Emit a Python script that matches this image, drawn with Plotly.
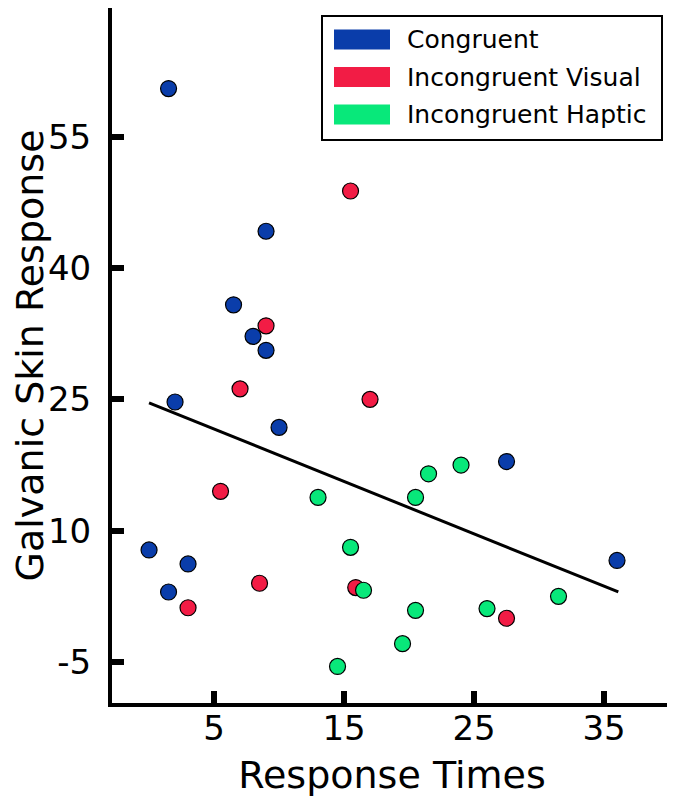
import plotly.graph_objects as go

# data
congruent_x = [1.5, 9.0, 6.5, 8.0, 9.0, 2.0, 10.0, 0.0, 3.0, 1.5, 27.5, 36.0]
congruent_y = [60.5, 44.2, 35.8, 32.2, 30.6, 24.7, 21.8, 7.8, 6.2, 3.0, 17.9, 6.6]

visual_x = [9.0, 7.0, 5.5, 3.0, 8.5, 15.5, 17.0, 15.9, 27.5]
visual_y = [33.4, 26.2, 14.5, 1.2, 4.0, 48.8, 25.0, 3.5, 0.0]

haptic_x = [13.0, 20.5, 21.5, 24.0, 15.5, 16.5, 20.5, 26.0, 31.5, 19.5, 14.5]
haptic_y = [13.8, 13.8, 16.5, 17.5, 8.1, 3.2, 0.9, 1.1, 2.5, -2.9, -5.5]

fit_x = [0.0, 36.1]
fit_y = [24.6, 3.0]

x_ticks = [5, 15, 25, 35]
y_ticks = [-5, 10, 25, 40, 55]
y_ticktext = ['-5', '10', '25', '40', '55']

names = ['Congruent', 'Incongruent Visual', 'Incongruent Haptic']
colors = ['#0A3DAA', '#F21C45', '#08E87A']

# the page body adds an 8px margin, so the figure is a bit smaller than the window
OFF = 8
W, H = 675 - OFF, 803 - OFF
L, R, T, B = 104, 3, 0, 100
font = 'DejaVu Sans'

fig = go.Figure()
for xs, ys, name, c in zip([congruent_x, visual_x, haptic_x],
                           [congruent_y, visual_y, haptic_y], names, colors):
    fig.add_trace(go.Scatter(x=xs, y=ys, mode='markers', name=name, showlegend=False,
                             marker=dict(size=16, color=c, line=dict(color='black', width=1.2))))

fig.add_trace(go.Scatter(x=fit_x, y=fit_y, mode='lines', showlegend=False,
                         line=dict(color='black', width=3)))

# legend drawn by hand so the swatches are wide rectangles (page pixel positions)
pw, ph = W - L - R, H - T - B
def px(x):
    return (x - OFF - L) / pw
def py(y):
    return 1 - (y - OFF - T) / ph

shapes = [dict(type='rect', xref='paper', yref='paper', x0=px(322), x1=px(662),
               y0=py(140), y1=py(16), line=dict(color='black', width=2), fillcolor='white')]
annotations = []
for i, (name, c) in enumerate(zip(names, colors)):
    cy = 39.5 + i * 37.5
    shapes.append(dict(type='rect', xref='paper', yref='paper', x0=px(334), x1=px(390),
                       y0=py(cy + 10), y1=py(cy - 10), line=dict(width=0), fillcolor=c))
    annotations.append(dict(text=name, xref='paper', yref='paper', x=px(405), y=py(cy),
                            xanchor='left', yanchor='middle', showarrow=False,
                            font=dict(family=font, size=25, color='black')))

fig.update_layout(shapes=shapes, annotations=annotations)

fig.update_xaxes(range=[-2.85, 40.23], tickvals=x_ticks, ticks='inside', ticklen=12, tickwidth=6,
                 tickcolor='black', showline=True, linecolor='black', linewidth=4,
                 showgrid=False, zeroline=False, ticklabelstandoff=-8, automargin=False,
                 title=dict(text='Response Times', font=dict(size=38), standoff=16))
fig.update_yaxes(range=[-9.68, 69.7], tickvals=y_ticks, ticktext=y_ticktext, ticks='inside',
                 ticklen=12, tickwidth=6, tickcolor='black', showline=True, linecolor='black',
                 linewidth=4, showgrid=False, zeroline=False, ticklabelstandoff=10, automargin=False,
                 title=dict(text='Galvanic Skin Response', font=dict(size=38), standoff=31))

fig.update_layout(
    width=W, height=H,
    margin=dict(l=L, r=R, t=T, b=B),
    plot_bgcolor='white', paper_bgcolor='white',
    font=dict(family=font, size=34, color='black'),
    hovermode=False,
)

fig.write_html("out.html")
